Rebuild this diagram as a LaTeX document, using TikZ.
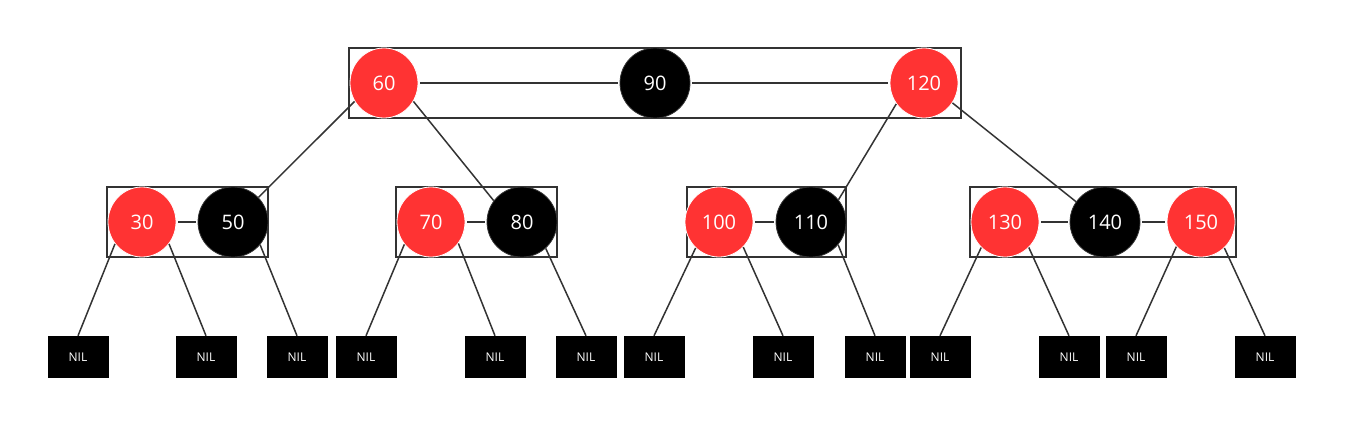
\documentclass[tikz,border=0pt]{standalone}
\usepackage{fontspec}
\setmainfont{Open Sans}
\usetikzlibrary{shapes.geometric}
\definecolor{rbred}{HTML}{FF3333}
\definecolor{lnc}{HTML}{333333}
\begin{document}
\begin{tikzpicture}[x=1pt,y=-1pt,
  rednode/.style={ellipse, fill=rbred, draw=white, line width=0.8pt, minimum width=68pt, minimum height=70pt, inner sep=0pt, text=white, font=\fontsize{20}{24}\selectfont},
  blknode/.style={ellipse, fill=black, draw=lnc, line width=0.8pt, minimum width=70pt, minimum height=70pt, inner sep=0pt, text=white, font=\fontsize{20}{24}\selectfont},
  nilbox/.style={rectangle, fill=black, minimum width=61pt, minimum height=42pt, inner sep=0pt, text=white, font=\fontsize{12}{14}\selectfont},
  grp/.style={rectangle, draw=lnc, line width=1.5pt, inner sep=0pt, minimum height=70pt},
  conn/.style={draw=lnc, line width=1.5pt},
  hconn/.style={draw=lnc, line width=1.5pt, shorten <=2pt, shorten >=2pt}]
\useasboundingbox[fill=white] (0,0) rectangle (1356,439);
% group boxes
\node[grp, minimum width=612pt] (g0) at (655,83) {};
\node[grp, minimum width=161pt] (g1) at (187.5,222) {};
\node[grp, minimum width=161pt] (g2) at (476.5,222) {};
\node[grp, minimum width=159pt] (g3) at (766.5,222) {};
\node[grp, minimum width=266pt] (g4) at (1103,222) {};
% key nodes
\node[rednode] (c60) at (384,83) {60};
\node[blknode] (c90) at (655,83) {90};
\node[rednode] (c120) at (924,83) {120};
\node[rednode] (c30) at (142,222) {30};
\node[blknode] (c50) at (233,222) {50};
\node[rednode] (c70) at (431,222) {70};
\node[blknode] (c80) at (522,222) {80};
\node[rednode] (c100) at (719,222) {100};
\node[blknode] (c110) at (811,222) {110};
\node[rednode] (c130) at (1005,222) {130};
\node[blknode] (c140) at (1105,222) {140};
\node[rednode] (c150) at (1201,222) {150};
% NIL leaves
\node[nilbox] (n1) at (78,357) {NIL};
\node[nilbox] (n2) at (206,357) {NIL};
\node[nilbox] (n3) at (297,357) {NIL};
\node[nilbox] (n4) at (366,357) {NIL};
\node[nilbox] (n5) at (495,357) {NIL};
\node[nilbox] (n6) at (586,357) {NIL};
\node[nilbox] (n7) at (654,357) {NIL};
\node[nilbox] (n8) at (783,357) {NIL};
\node[nilbox] (n9) at (875,357) {NIL};
\node[nilbox] (n10) at (940,357) {NIL};
\node[nilbox] (n11) at (1069,357) {NIL};
\node[nilbox] (n12) at (1136,357) {NIL};
\node[nilbox] (n13) at (1265,357) {NIL};
% horizontal links
\draw[hconn] (c60) -- (c90);
\draw[hconn] (c90) -- (c120);
\draw[hconn] (c30) -- (c50);
\draw[hconn] (c70) -- (c80);
\draw[hconn] (c100) -- (c110);
\draw[hconn] (c130) -- (c140);
\draw[hconn] (c140) -- (c150);
% top to middle
\draw[conn] (c60.212) -- (c50.44);
\draw[conn] (c60.328) -- (c80.143);
\draw[conn] (c120.217) -- (c110.39);
\draw[conn] (c120.325) -- (c140.145);
% middle to leaves
\draw[conn] (c30.219) -- (n1.north);
\draw[conn] (c30.321) -- (n2.north);
\draw[conn] (c50.320) -- (n3.north);
\draw[conn] (c70.220) -- (n4.north);
\draw[conn] (c70.322) -- (n5.north);
\draw[conn] (c80.312) -- (n6.north);
\draw[conn] (c100.228) -- (n7.north);
\draw[conn] (c100.314) -- (n8.north);
\draw[conn] (c110.320) -- (n9.north);
\draw[conn] (c130.227) -- (n10.north);
\draw[conn] (c130.313) -- (n11.north);
\draw[conn] (c150.225) -- (n12.north);
\draw[conn] (c150.312) -- (n13.north);
\end{tikzpicture}
\end{document}
